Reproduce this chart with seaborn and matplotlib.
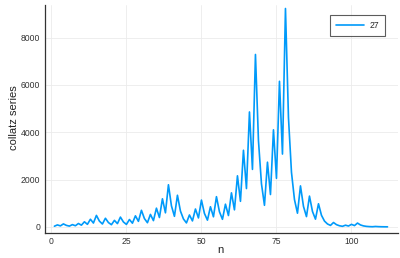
import matplotlib
matplotlib.use("Agg")
import matplotlib.pyplot as plt
import seaborn as sns
import pandas as pd

seq = [27, 82, 41, 124, 62, 31, 94, 47, 142, 71, 214, 107, 322, 161, 484, 242, 121, 364, 182, 91,
       274, 137, 412, 206, 103, 310, 155, 466, 233, 700, 350, 175, 526, 263, 790, 395, 1186, 593,
       1780, 890, 445, 1336, 668, 334, 167, 502, 251, 754, 377, 1132, 566, 283, 850, 425, 1276, 638,
       319, 958, 479, 1438, 719, 2158, 1079, 3238, 1619, 4858, 2429, 7288, 3644, 1822, 911, 2734,
       1367, 4102, 2051, 6154, 3077, 9232, 4616, 2308, 1154, 577, 1732, 866, 433, 1300, 650, 325,
       976, 488, 244, 122, 61, 184, 92, 46, 23, 70, 35, 106, 53, 160, 80, 40, 20, 10, 5, 16, 8, 4, 2, 1]
n = list(range(1, len(seq) + 1))
series_label = "27"
xticks = [0, 25, 50, 75, 100]
yticks = [0, 2000, 4000, 6000, 8000]

df = pd.DataFrame({"n": n, "val": seq})

sns.set_style("white")
plt.rcParams['font.family'] = ['Liberation Sans', 'DejaVu Sans']
W, H = 400, 258
fig = plt.figure(figsize=(4, 2.58), dpi=100)
ax = fig.add_axes([44.5 / W, 1 - 233 / H, (398 - 44.5) / W, (233 - 5) / H])
sns.lineplot(data=df, x="n", y="val", ax=ax, color="#009AFA", linewidth=1.2, label=series_label)
ax.set_xlim(-2.3, 115.5)
ax.set_ylim(-260, 9380)
ax.set_xticks(xticks)
ax.set_yticks(yticks)
ax.grid(True, color="#EBEBEB", linewidth=0.6)
ax.set_axisbelow(True)
for s in ["top", "right"]:
    ax.spines[s].set_visible(False)
for s in ["left", "bottom"]:
    ax.spines[s].set_color("#333333")
    ax.spines[s].set_linewidth(0.9)
ax.tick_params(axis="both", labelsize=6.2, colors="#333333", length=2.2, width=0.6, direction="in", pad=3)
ax.set_xlabel("")
ax.set_ylabel("")
fig.text(220 / W, 1 - 250 / H, "n", fontsize=8.2, color="#222222", ha="center", va="center")
fig.text(14 / W, 1 - 118 / H, "collatz series", fontsize=8, color="#222222", ha="center", va="center",
         rotation=90)
leg = ax.legend(loc="upper right", bbox_to_anchor=((385 - 44.5) / (398 - 44.5), (233 - 15) / 228),
                fontsize=6.2, frameon=True, fancybox=False, edgecolor="#333333",
                handlelength=3.3, borderpad=0.7, handletextpad=0.6, borderaxespad=0)
leg.get_frame().set_linewidth(0.8)
fig.savefig("out.png", dpi=100)
